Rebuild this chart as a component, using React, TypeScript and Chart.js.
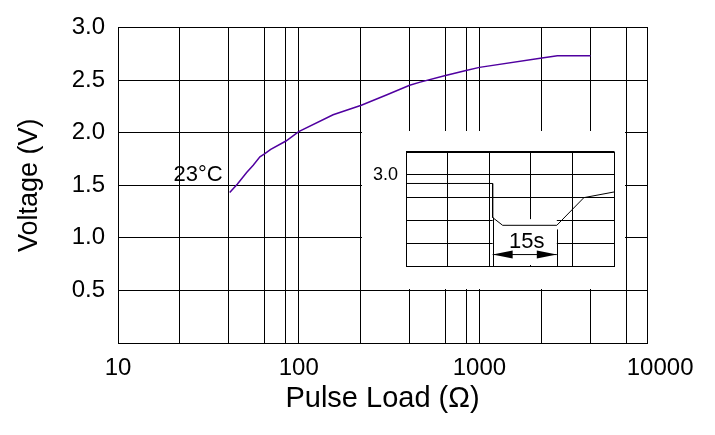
import { FC, useEffect, useRef } from "react";
import { Chart, registerables } from "chart.js";

Chart.register(...registerables);

// main curve: voltage vs pulse load at 23°C
const loadOhms = [41.5, 45.7, 51.5, 56, 61, 65, 70, 85, 100, 155, 222, 308, 411, 470, 641, 843, 1000, 2217, 2700, 4120];
const voltage = [1.43, 1.51, 1.62, 1.69, 1.77, 1.8, 1.84, 1.92, 2.01, 2.17, 2.26, 2.36, 2.45, 2.48, 2.54, 2.59, 2.62, 2.71, 2.73, 2.73];
const curveLabel = "23°C";

// x axis (log) grid and labels
const xMin = 10;
const xMax = 8460;
const xGridValues = [22, 41, 65, 85, 100, 220, 410, 650, 850, 1000, 2200, 4100, 6500];
const xTickLabels = [10, 100, 1000, 10000];

// y axis
const yMin = 0;
const yMax = 3;
const yStep = 0.5;

// inset: pulse waveform (seconds / volts)
const pulseTime = [0, 20.8, 20.8, 23.2, 36.2, 42.7, 50];
const pulseVolt = [2.961, 2.961, 2.812, 2.778, 2.778, 2.899, 2.924];
const insetTimeGrid = [0, 10, 20, 30, 40, 50];
const insetVoltGrid = [2.6, 2.7, 2.8, 2.9, 3.0, 3.1];
const insetRefVolt = 3.0;
const dimTimes = [20.8, 36.2];
const dimTopVolts = [2.812, 2.76];
const dimMaskVolt = 2.805;
const dimLevel = 2.65;
const dimLabel = "15s";

const FONT = "'Liberation Sans', Arial, sans-serif";

Chart.defaults.font.family = FONT;
Chart.defaults.color = "#000";

// frame round the plot area
const framePlugin = {
  id: "frame",
  afterDatasetsDraw(chart: any) {
    const { ctx, chartArea } = chart;
    const l = Math.round(chartArea.left) + 0.5;
    const t = Math.round(chartArea.top) + 0.5;
    const r = Math.round(chartArea.right) + 0.5;
    const b = Math.round(chartArea.bottom) + 0.5;
    ctx.save();
    ctx.strokeStyle = "#000";
    ctx.lineWidth = 1;
    ctx.strokeRect(l, t, r - l, b - t);
    ctx.restore();
  },
};

const curveLabelPlugin = {
  id: "curveLabel",
  afterDatasetsDraw(chart: any) {
    const { ctx, scales } = chart;
    const x = scales.x.getPixelForValue(loadOhms[0]) - 7;
    const y = scales.y.getPixelForValue(1.5) - 4;
    ctx.save();
    ctx.font = `22px ${FONT}`;
    ctx.fillStyle = "#000";
    ctx.textAlign = "right";
    ctx.textBaseline = "alphabetic";
    ctx.fillText(curveLabel, x, y);
    ctx.restore();
  },
};

const dimensionPlugin = {
  id: "dimension",
  beforeDatasetsDraw(chart: any) {
    const { ctx, scales, chartArea } = chart;
    const x0 = scales.x.getPixelForValue(dimTimes[0]);
    const x1 = scales.x.getPixelForValue(dimTimes[1]);
    const top = scales.y.getPixelForValue(dimMaskVolt);
    ctx.save();
    ctx.fillStyle = "#fff";
    ctx.fillRect(x0, top, x1 - x0, chartArea.bottom - 1 - top);
    ctx.restore();
  },
  afterDatasetsDraw(chart: any) {
    const { ctx, scales, chartArea } = chart;
    const x0 = scales.x.getPixelForValue(dimTimes[0]);
    const x1 = scales.x.getPixelForValue(dimTimes[1]);
    const y = scales.y.getPixelForValue(dimLevel);
    ctx.save();
    ctx.strokeStyle = "#000";
    ctx.fillStyle = "#000";
    ctx.lineWidth = 1;
    ctx.beginPath();
    dimTimes.forEach((t, i) => {
      const px = Math.round(scales.x.getPixelForValue(t)) + 0.5;
      ctx.moveTo(px, scales.y.getPixelForValue(dimTopVolts[i]));
      ctx.lineTo(px, chartArea.bottom);
    });
    ctx.moveTo(x0, y);
    ctx.lineTo(x1, y);
    ctx.stroke();
    // arrow heads
    ctx.beginPath();
    ctx.moveTo(x0, y);
    ctx.lineTo(x0 + 20, y - 4);
    ctx.lineTo(x0 + 20, y + 4);
    ctx.closePath();
    ctx.moveTo(x1, y);
    ctx.lineTo(x1 - 20, y - 4);
    ctx.lineTo(x1 - 20, y + 4);
    ctx.closePath();
    ctx.fill();
    ctx.font = `22px ${FONT}`;
    ctx.textAlign = "center";
    ctx.textBaseline = "alphabetic";
    ctx.fillText(dimLabel, (x0 + x1) / 2 + 2, y - 7);
    ctx.restore();
  },
};

const MainChart: FC = () => {
  const canvasRef = useRef<HTMLCanvasElement | null>(null);

  useEffect(() => {
    if (!canvasRef.current) return;
    const ctx = canvasRef.current.getContext("2d");
    if (!ctx) return;

    const chart = new Chart(ctx, {
      type: "line",
      data: {
        datasets: [
          {
            data: loadOhms.map((x, i) => ({ x, y: voltage[i] })),
            borderColor: "#5000a0",
            borderWidth: 1.5,
            pointRadius: 0,
            tension: 0,
            fill: false,
          },
        ],
      },
      options: {
        animation: false,
        responsive: false,
        events: [],
        layout: { padding: { top: 23, right: 68, left: 0, bottom: 0 } },
        plugins: { legend: { display: false }, tooltip: { enabled: false } },
        scales: {
          x: {
            type: "logarithmic",
            min: xMin,
            max: xMax,
            afterBuildTicks: (scale: any) => {
              scale.ticks = [xMin, ...xGridValues, xMax, ...xTickLabels.filter((v) => v > xMax)].map((value) => ({ value }));
            },
            afterFit: (scale: any) => {
              scale.height = 92;
            },
            grid: {
              color: (c: any) => (c.tick && c.tick.value > xMax ? "rgba(0,0,0,0)" : "#000"),
              lineWidth: 1,
              drawTicks: false,
            },
            border: { display: true, color: "#000", width: 1 },
            ticks: {
              autoSkip: false,
              maxRotation: 0,
              minRotation: 0,
              padding: 11,
              font: { size: 24 },
              callback: (v: any) => (xTickLabels.includes(Number(v)) ? String(v) : ""),
            },
            title: {
              display: true,
              text: "Pulse Load (Ω)",
              font: { size: 29 },
              padding: { top: 0, bottom: 19 },
            },
          },
          y: {
            min: yMin,
            max: yMax,
            afterFit: (scale: any) => {
              scale.width = 118;
            },
            grid: { color: "#000", lineWidth: 1, drawTicks: false },
            border: { display: true, color: "#000", width: 1 },
            ticks: {
              stepSize: yStep,
              padding: 13,
              font: { size: 24 },
              callback: (v: any) => (Number(v) === 0 ? "" : Number(v).toFixed(1)),
            },
            title: {
              display: true,
              text: "Voltage (V)",
              font: { size: 27 },
              padding: { top: 13, bottom: 0 },
            },
          },
        },
      },
      plugins: [framePlugin, curveLabelPlugin],
    });

    return () => {
      chart.destroy();
    };
  }, []);

  return <canvas ref={canvasRef} width={715} height={435} style={{ position: "absolute", left: 0, top: 0 }} />;
};

const InsetChart: FC = () => {
  const canvasRef = useRef<HTMLCanvasElement | null>(null);

  useEffect(() => {
    if (!canvasRef.current) return;
    const ctx = canvasRef.current.getContext("2d");
    if (!ctx) return;

    const chart = new Chart(ctx, {
      type: "line",
      data: {
        datasets: [
          {
            data: pulseTime.map((x, i) => ({ x, y: pulseVolt[i] })),
            borderColor: "#000",
            borderWidth: 1,
            pointRadius: 0,
            tension: 0,
            fill: false,
          },
        ],
      },
      options: {
        animation: false,
        responsive: false,
        events: [],
        layout: { padding: { top: 20.7, right: 10.7, left: 0, bottom: 0 } },
        plugins: { legend: { display: false }, tooltip: { enabled: false } },
        scales: {
          x: {
            type: "linear",
            min: insetTimeGrid[0],
            max: insetTimeGrid[insetTimeGrid.length - 1],
            afterBuildTicks: (scale: any) => {
              scale.ticks = insetTimeGrid.map((value) => ({ value }));
            },
            afterFit: (scale: any) => {
              scale.height = 23;
            },
            grid: { color: "#000", lineWidth: 1, drawTicks: false },
            border: { display: true, color: "#000", width: 1 },
            ticks: { display: false },
          },
          y: {
            min: insetVoltGrid[0],
            max: insetVoltGrid[insetVoltGrid.length - 1],
            afterBuildTicks: (scale: any) => {
              scale.ticks = insetVoltGrid.map((value) => ({ value }));
            },
            afterFit: (scale: any) => {
              scale.width = 44;
            },
            grid: { color: "#000", lineWidth: 1, drawTicks: false },
            border: { display: true, color: "#000", width: 1 },
            ticks: {
              autoSkip: false,
              padding: 8,
              font: { size: 18 },
              callback: (v: any) => (Math.abs(Number(v) - insetRefVolt) < 1e-6 ? insetRefVolt.toFixed(1) : ""),
            },
          },
        },
      },
      plugins: [dimensionPlugin, framePlugin],
    });

    return () => {
      chart.destroy();
    };
  }, []);

  return (
    <div style={{ position: "absolute", left: 362, top: 131, width: 263, height: 158, background: "#fff" }}>
      <canvas ref={canvasRef} width={263} height={158} />
    </div>
  );
};

const App: FC = () => {
  useEffect(() => {
    document.body.style.margin = "0";
  }, []);

  return (
    <div style={{ position: "relative", width: 715, height: 435, background: "#fff" }}>
      <MainChart />
      <InsetChart />
    </div>
  );
};

export default App;
